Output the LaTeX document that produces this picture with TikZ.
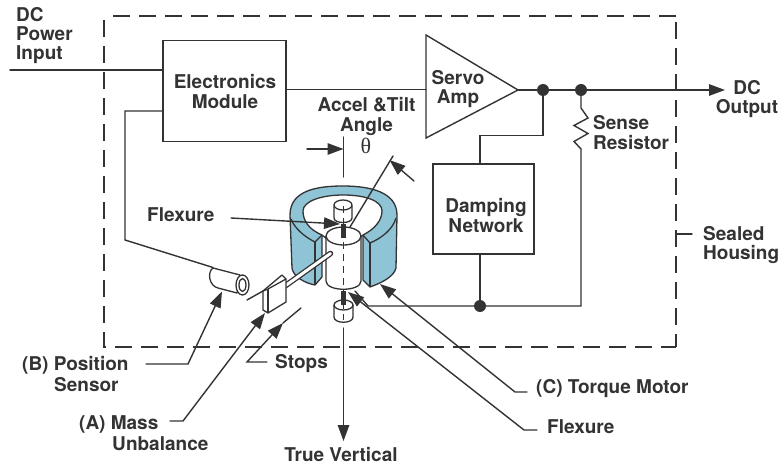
\documentclass[tikz,border=0pt]{standalone}
\usepackage{fontspec}
\setmainfont{TeX Gyre Heros}
\newfontfamily\thetafont{Liberation Serif}
\usetikzlibrary{arrows.meta,calc}
\definecolor{ink}{HTML}{333333}
\definecolor{motorblue}{HTML}{8FC4D6}
\tikzset{
  wire/.style={draw=ink,line width=1.4pt,line cap=round,line join=miter},
  leader/.style={wire,-{Triangle[length=16pt,width=11.5pt]}},
  box/.style={draw=ink,line width=1.4pt,fill=white,inner sep=0pt,rectangle},
  lbl/.style={text=ink,font=\fontsize{19}{19.4}\selectfont\bfseries,inner sep=0pt,align=center},
  lbll/.style={lbl,align=left},
  dot/.style={circle,fill=ink,draw=none,minimum size=12pt,inner sep=0pt},
  housing/.style={draw=ink,line width=1.4pt,dash pattern=on 17pt off 9pt},
  solid part/.style={draw=ink,line width=1.3pt,line join=round},
  blue part/.style={solid part,fill=motorblue},
  white part/.style={solid part,fill=white},
}
\begin{document}
\begin{tikzpicture}[x=1pt,y=-1pt]
\useasboundingbox (0,0) rectangle (784,470);
\fill[white] (0,0) rectangle (784,470);

% sealed housing
\draw[housing,dash phase=4pt] (676,347) -- (676,16);
\draw[housing] (676,16) -- (111,16);
\draw[housing] (104,20) -- (104,347) -- (676,347);
\coordinate (tickA) at (676,234);
\coordinate (tickB) at (692,234);
\draw[wire] (tickA) -- (tickB);

% blocks
\node[box,minimum width=123pt,minimum height=101pt] (em) at (224.5,91) {};
\node[lbl] (emt) at (225,91.5) {Electronics\\Module};
\node[box,minimum width=101pt,minimum height=90pt] (dn) at (483.5,209) {};
\node[lbl] (dnt) at (486,215.5) {Damping\\Network};

% amplifier
\coordinate (ampA) at (426,35);
\coordinate (ampB) at (426,138);
\coordinate (ampC) at (518,90);
\coordinate (ampIn) at (426,89.5);
\draw[wire,fill=white,line join=miter] (ampA) -- (ampC) -- (ampB) -- cycle;
\node[lbl] (ampt) at (458,89) {Servo\\Amp};

% nodes on the output
\node[dot] (j1) at (543,90) {};
\node[dot] (j2) at (581,90) {};
\node[dot] (j3) at (480,306) {};
\coordinate (inStart) at (10,70);
\coordinate (inEnd) at (163,70);
\coordinate (outEnd) at (725,90);
\coordinate (emOut) at (286,89.5);
\coordinate (emIn2) at (163,111);
\coordinate (bend1) at (125,111);
\coordinate (bend2) at (125,240);
\coordinate (sensTop) at (213,267.5);
\coordinate (c1) at (543,135.5);
\coordinate (c2) at (480,135.5);
\coordinate (c3) at (480,164);
\coordinate (c4) at (480,254);
\coordinate (r5) at (581,306);
\coordinate (r6) at (368,306);
\coordinate (r7) at (355,291);

\draw[wire] (inStart) -- (inEnd);
\draw[wire] (emOut) -- (ampIn);
\draw[wire] (ampC) -- (j1) -- (j2);
\draw[leader] (j2) -- (outEnd);
\draw[wire] (emIn2) -- (bend1) -- (bend2) -- (sensTop);
\draw[wire] (j1) -- (c1) -- (c2) -- (c3);
\draw[wire] (c4) -- (j3);
\draw[wire] (j2) -- (581,108) -- (588,118) -- (574,125.5) -- (588,133.5) -- (574,141.5) -- (581,149) -- (r5) -- (j3) -- (r6) -- (r7);

% position sensor
\draw[white part] (213,268) -- (240,275) -- (237,293) -- (218,288) .. controls (209,286) and (207,272) .. (213,268);
\draw[white part] (242.5,285) ellipse [x radius=6.5pt,y radius=10pt];
\draw[solid part] (242.5,285) ellipse [x radius=3.5pt,y radius=6.5pt];

% torque motor, left and right segments
\path[blue part] (290,215) .. controls (290,190) and (318,186) .. (343,186)
   .. controls (370,186) and (397,192) .. (397,215)
   -- (396,268) .. controls (394,276) and (384,282) .. (370,287)
   -- (363,280) -- (363,235) -- (322,235) -- (322,277) -- (315,285)
   .. controls (304,283) and (293,276) .. (292,268) -- cycle;
\draw[white part] (322,235) .. controls (308,229) and (303,220) .. (303,211)
   .. controls (303,201) and (322,195) .. (343,195)
   .. controls (366,195) and (382,201) .. (382,211)
   .. controls (382,220) and (375,229) .. (363,235) -- (343,252) -- cycle;
\draw[solid part] (322,235) -- (315,242) .. controls (305,237) and (295,229) .. (291,219);
\draw[solid part] (363,235) -- (370,243) .. controls (382,238) and (393,229) .. (396,218);
\draw[solid part] (315,242) -- (315,285);
\draw[solid part] (370,243) -- (370,287);

% shafts and centre line
\draw[white part] (334,206) -- (334,218) .. controls (334,224) and (352,224) .. (352,218) -- (352,206);
\draw[white part] (343,205) ellipse [x radius=9pt,y radius=5pt];
\draw[white part] (326,236) -- (326,281) .. controls (326,292) and (361,292) .. (361,281) -- (361,236);
\draw[white part] (343.5,236) ellipse [x radius=17.5pt,y radius=9pt];
\draw[white part] (334,305) -- (334,317) .. controls (334,324) and (353,324) .. (353,317) -- (353,305);
\draw[white part] (343.5,305) ellipse [x radius=9.5pt,y radius=5pt];
\draw[draw=ink,line width=1.3pt,dash pattern=on 7pt off 5pt] (343.5,206) -- (343.5,320);
\draw[draw=ink,line width=4.5pt] (343.5,224) -- (343.5,238);
\draw[draw=ink,line width=4.5pt] (343.5,291) -- (343.5,305);

% mass unbalance: rod and block
\draw[draw=ink,line width=5.6pt,line cap=round] (285,286) -- (330.5,253.5);
\draw[draw=white,line width=3pt,line cap=round] (285,286) -- (330.5,253.5);
\draw[white part] (263,291) -- (282,275) -- (286,279) -- (286,302) -- (268,313) -- (263,310) -- cycle;
\draw[solid part] (268,289) -- (268,313);
\draw[solid part] (263,291) -- (268,289) -- (286,279);
\coordinate (blockLine) at (247,300);
\coordinate (blockCorner) at (263,291);
\draw[wire] (blockLine) -- (blockCorner);

% angle dimension
\coordinate (v1) at (343.5,137);
\coordinate (v2) at (343.5,177);
\coordinate (v3) at (307,149);
\coordinate (v4) at (343.5,149);
\coordinate (t1) at (393,156);
\coordinate (t2) at (350,227);
\coordinate (t3) at (414,181);
\coordinate (t4) at (389.5,160);
\draw[wire] (v1) -- (v2);
\draw[leader] (v3) -- (v4);
\draw[wire] (t1) -- (t2);
\draw[leader] (t3) -- (t4);
\node[lbl] (accel) at (366.5,116.5) {Accel \&Tilt\\Angle};
\node[text=ink,inner sep=0pt,font=\fontsize{22}{22}\selectfont\thetafont] (theta) at (366,145.5) {θ};

% true vertical
\coordinate (tv1) at (343.5,328);
\coordinate (tv2) at (343.5,441);
\draw[leader] (tv1) -- (tv2);
\node[lbl] (tvt) at (341,455) {True Vertical};

% labels and leaders
\node[lbll,anchor=west] (dcin) at (16,35.5) {DC\\Power\\Input};
\node[lbl] (dcout) at (747,99) {DC\\Output};
\node[lbll,anchor=west] (sense) at (593,132.5) {Sense\\Resistor};
\node[lbll,anchor=west] (sealed) at (703,245) {Sealed\\Housing};
\node[lbl,anchor=west] (flexA) at (147,215) {Flexure};
\node[lbl,anchor=west] (flexB) at (547,427) {Flexure};
\node[lbl,anchor=west] (torque) at (536,389) {(C) Torque Motor};
\node[lbl,anchor=west] (stops) at (275,363.5) {Stops};
\node[lbl,anchor=west] (posA) at (22,365) {(B) Position};
\node[lbl,anchor=west] (posB) at (54,385) {Sensor};
\node[lbl,anchor=west] (massA) at (79,424) {(A) Mass};
\node[lbl,anchor=west] (massB) at (112,443.5) {Unbalance};

\coordinate (fx1) at (231,218);
\coordinate (fx2) at (340,224);
\draw[leader] (fx1) -- (fx2);

\coordinate (p1) at (146,364);
\coordinate (p2) at (188,364);
\coordinate (p3) at (222,291.5);
\draw[leader] (p1) -- (p2) -- (p3);
\coordinate (m1) at (170,421);
\coordinate (m2) at (183,421);
\coordinate (m3) at (265,313);
\draw[leader] (m1) -- (m2) -- (m3);
\coordinate (s1) at (267,362);
\coordinate (s2) at (247,362);
\coordinate (s3) at (283,323);
\coordinate (s4) at (301,308);
\draw[wire] (s3) -- (s4);
\draw[leader] (s1) -- (s2) -- (s3);
\coordinate (q1) at (527,392);
\coordinate (q2) at (515,392);
\coordinate (q3) at (380,284);
\draw[leader] (q1) -- (q2) -- (q3);
\coordinate (f1) at (537,430);
\coordinate (f2) at (524,430);
\coordinate (f3) at (348,292);
\draw[leader] (f1) -- (f2) -- (f3);
\end{tikzpicture}
\end{document}
